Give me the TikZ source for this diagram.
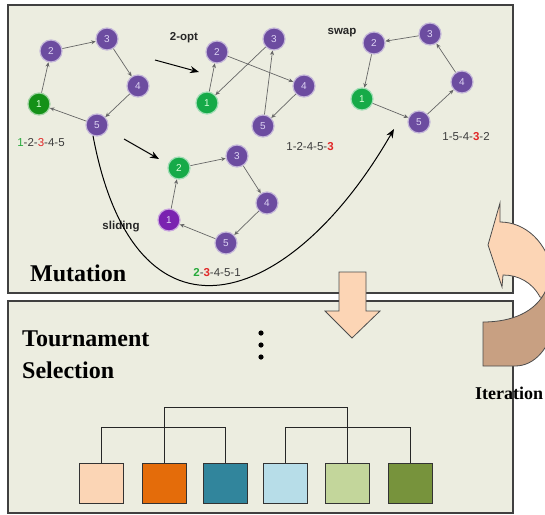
\documentclass[tikz,border=0pt]{standalone}
\usepackage{fontspec}
\setmainfont{Liberation Serif}
\newfontfamily\arialf{Liberation Sans}
\usetikzlibrary{arrows.meta}
\definecolor{bg}{RGB}{236,237,224}
\definecolor{vpurp}{RGB}{108,76,160}
\definecolor{vmag}{RGB}{122,34,176}
\definecolor{vgreen}{RGB}{22,170,72}
\definecolor{vdgreen}{RGB}{20,145,24}
\definecolor{vtext}{RGB}{222,212,244}
\definecolor{lblgray}{RGB}{60,60,60}
\definecolor{lblred}{RGB}{225,40,40}
\definecolor{lblgreen}{RGB}{40,170,60}
\definecolor{peach}{RGB}{252,213,181}
\definecolor{tan}{RGB}{200,160,130}
\definecolor{sq1}{RGB}{251,213,181}
\definecolor{sq2}{RGB}{228,108,10}
\definecolor{sq3}{RGB}{49,133,156}
\definecolor{sq4}{RGB}{183,221,232}
\definecolor{sq5}{RGB}{195,214,155}
\definecolor{sq6}{RGB}{119,147,60}
\tikzset{
  vtx/.style={circle, fill=vpurp, draw=vpurp!40!white, line width=1.2pt, minimum size=22pt, inner sep=0pt,
    text=vtext, font=\arialf\fontsize{10}{10}\selectfont},
  gvtx/.style={vtx, fill=vgreen, draw=vgreen!40!white, text=white!85!green},
  edge/.style={-{Stealth[length=4.5pt,width=4pt]}, draw=black!60, line width=0.7pt},
  bigarrow/.style={-{Stealth[length=9pt,width=7pt]}, line width=1pt, draw=black},
  panel/.style={draw=black!75, line width=1.1pt, fill=bg},
  seq/.style={font=\arialf\fontsize{11.5}{13}\selectfont, text=lblgray},
  oplbl/.style={font=\arialf\bfseries\fontsize{11.5}{13}\selectfont, text=black!85},
  title/.style={font=\bfseries\fontsize{24}{26}\selectfont, text=black, anchor=base west, inner sep=0pt},
  sq/.style={draw=black!80, line width=0.9pt, minimum width=44pt, minimum height=40pt, inner sep=0pt},
  tree/.style={draw=black!85, line width=0.9pt}
}
\begin{document}
\begin{tikzpicture}[x=1pt,y=-1pt]
\useasboundingbox (0,0) rectangle (545,514);
\clip (0,0) rectangle (545,514);
% panels
\draw[panel] (8,5) rectangle (513,293);
\draw[panel] (8,301) rectangle (513,513);

% graph 1
\node[vtx] (a2) at (51,51) {2};
\node[vtx] (a3) at (107,39) {3};
\node[vtx] (a4) at (138,86) {4};
\node[vtx] (a5) at (97,125) {5};
\node[gvtx, fill=vdgreen, draw=vdgreen!40!white] (a1) at (39,104) {1};
\draw[edge] (a1) -- (a2);
\draw[edge] (a2) -- (a3);
\draw[edge] (a3) -- (a4);
\draw[edge] (a4) -- (a5);
\draw[edge] (a5) -- (a1);
\node[seq] (l1) at (41,143) {\textcolor{lblgreen}{1}-2-\textcolor{lblred}{3}-4-5};

% graph 2 (2-opt)
\node[vtx] (b2) at (217,52) {2};
\node[vtx] (b3) at (274,39) {3};
\node[vtx] (b4) at (304,86) {4};
\node[vtx] (b5) at (263,126) {5};
\node[gvtx] (b1) at (207,103) {1};
\draw[edge] (b1) -- (b2);
\draw[edge] (b2) -- (b4);
\draw[edge] (b4) -- (b5);
\draw[edge] (b5) -- (b3);
\draw[edge] (b3) -- (b1);
\node[seq] (l2) at (310,147) {1-2-4-5-\textcolor{lblred}{\bfseries 3}};
\node[oplbl] (op1) at (184,38) {2-opt};

% graph 3 (swap)
\node[vtx] (c2) at (374,43) {2};
\node[vtx] (c3) at (430,34) {3};
\node[vtx] (c4) at (462,82) {4};
\node[vtx] (c5) at (419,122) {5};
\node[gvtx] (c1) at (362,99) {1};
\draw[edge] (c3) -- (c2);
\draw[edge] (c2) -- (c1);
\draw[edge] (c1) -- (c5);
\draw[edge] (c5) -- (c4);
\draw[edge] (c4) -- (c3);
\node[seq] (l3) at (466,137) {1-5-4-\textcolor{lblred}{\bfseries 3}-2};
\node[oplbl] (op2) at (342,33) {swap};

% graph 4 (sliding)
\node[gvtx] (d2) at (179,168) {2};
\node[vtx] (d3) at (237,156) {3};
\node[vtx] (d4) at (267,203) {4};
\node[vtx] (d5) at (226,243) {5};
\node[vtx, fill=vmag, draw=vmag!40!white] (d1) at (169,220) {1};
\draw[edge] (d1) -- (d2);
\draw[edge] (d2) -- (d3);
\draw[edge] (d3) -- (d4);
\draw[edge] (d4) -- (d5);
\draw[edge] (d5) -- (d1);
\node[seq] (l4) at (217,273) {\textcolor{lblgreen}{\bfseries 2}-\textcolor{lblred}{\bfseries 3}-4-5-1};
\node[oplbl] (op3) at (121,227) {sliding};

% operator arrows
\coordinate (p1s) at (155,60);
\coordinate (p1e) at (199,72);
\coordinate (p2s) at (124,139);
\coordinate (p2e) at (159,159);
\coordinate (p3e) at (394,129);
\draw[bigarrow] (p1s) -- (p1e);
\draw[bigarrow] (p2s) -- (p2e);
\draw[-{Stealth[length=9pt,width=7pt]}, line width=1pt] (a5.250) .. controls (135,360) and (290,310) .. (p3e);

% titles
\node[title] (mut) at (30,281) {Mutation};
\node[title] (tour) at (22,346) {Tournament};
\node[title] (sel) at (22,378) {Selection};

% dots
\fill (261,333) circle (2.6);
\fill (261,345) circle (2.6);
\fill (261,357) circle (2.6);

% down arrow
\draw[fill=peach, draw=black!70, line width=0.8pt, line join=miter]
  (339,272) -- (366,272) -- (366,311) -- (380,311) -- (352,338) -- (325,311) -- (339,311) -- cycle;

% iteration arrow
\draw[fill=peach, draw=black!70, line width=0.8pt]
  (488,245) -- (500,203) -- (500,222) .. controls (525,222) and (548,242) .. (553,275)
  -- (553,300) -- (540,297) .. controls (532,282) and (518,275) .. (503,275) -- (502,287) -- cycle;
\draw[fill=tan, draw=black!70, line width=0.8pt]
  (483,322) .. controls (512,322) and (536,312) .. (546,290) -- (556,290) -- (556,320)
  .. controls (550,348) and (535,366) .. (515,366) -- (483,366) -- cycle;
\node[title, font=\bfseries\fontsize{18}{20}\selectfont] (iter) at (475,399) {Iteration};

% tournament tree
\node[sq, fill=sq1] (s1) at (101,483) {};
\node[sq, fill=sq2] (s2) at (164,483) {};
\node[sq, fill=sq3] (s3) at (225,483) {};
\node[sq, fill=sq4] (s4) at (285,483) {};
\node[sq, fill=sq5] (s5) at (347,483) {};
\node[sq, fill=sq6] (s6) at (410,483) {};
\draw[tree] (s1.north) -- ++(0,-35) -| (s3.north);
\draw[tree] (s4.north) -- ++(0,-35) -| (s6.north);
\draw[tree] (s2.north) -- ++(0,-55) -| (s5.north);
\end{tikzpicture}
\end{document}
